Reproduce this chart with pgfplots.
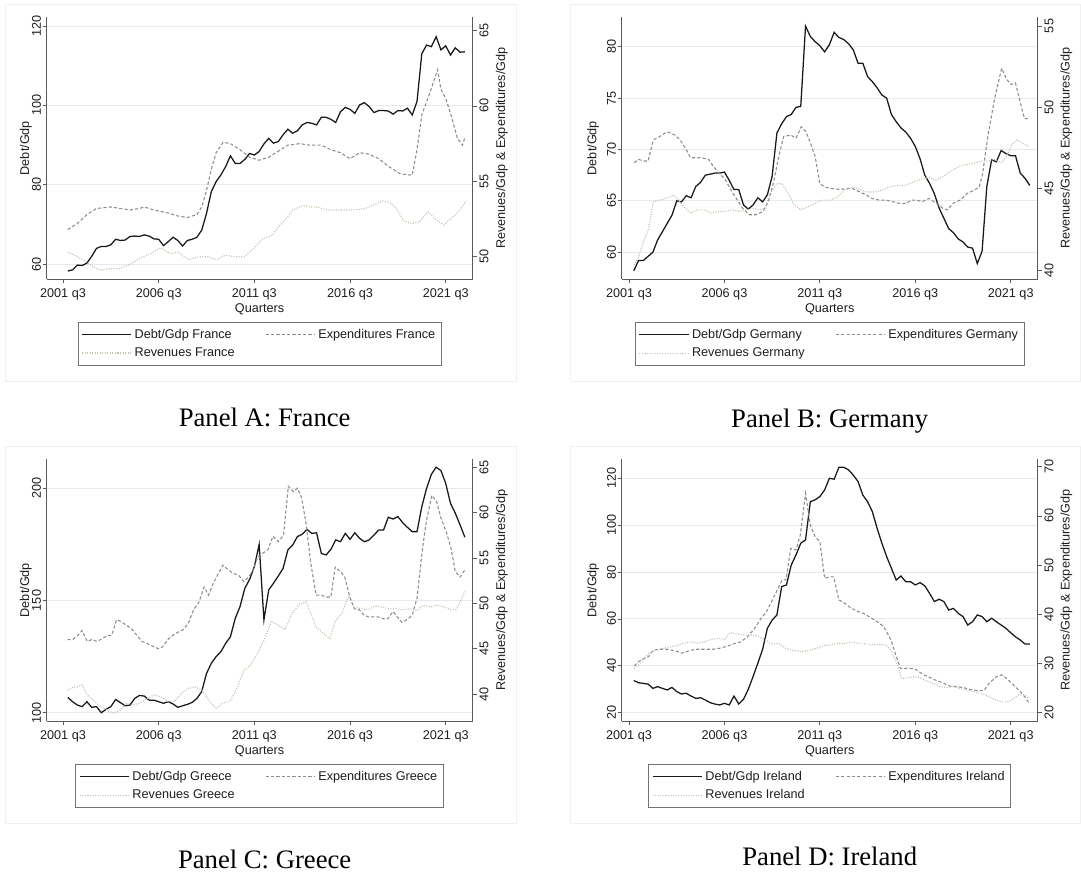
\documentclass[border=0pt]{standalone}
\usepackage{fontspec}
\setmainfont{Liberation Sans}
\newfontfamily\capfont{Liberation Serif}
\usepackage{pgfplots}
\pgfplotsset{compat=1.18}
\newcommand{\cf}{\fontsize{9.5}{11}\selectfont}
\definecolor{gridc}{RGB}{226,236,240}
\definecolor{axc}{RGB}{90,90,90}
\definecolor{txtc}{RGB}{30,30,30}
\definecolor{debtc}{RGB}{25,25,25}
\definecolor{expc}{RGB}{140,140,140}
\definecolor{revc}{RGB}{192,196,176}
\pgfplotsset{
  debt/.style={color=debtc, line width=0.95pt, solid},
  expd/.style={color=expc, line width=0.8pt, dash pattern=on 2.4pt off 1.6pt},
  reve/.style={color=revc, line width=0.85pt, dash pattern=on 0.8pt off 1.1pt},
  common/.style={
    scale only axis, width=312pt, height=197.1pt,
    xmin=-1.53, xmax=85.66,
    axis line style={axc, line width=0.6pt, -},
    tick align=outside, major tick length=3pt,
    tick style={axc, line width=0.6pt},
    ticklabel style={font=\cf, text=txtc},
    /pgf/number format/assume math mode=true,
    clip=true,
  },
  wide/.style={width=319.65pt, xmin=-3.45, xmax=85.64},
  leftax/.style={
    common,
    axis x line*=bottom, axis y line*=left,
    xtick={0,20,40,60,80},
    xticklabels={2001 q3,2006 q3,2011 q3,2016 q3,2021 q3},
    ymajorgrids, grid style={gridc, line width=0.7pt},
    yticklabel style={rotate=90, anchor=south, inner sep=1pt},
    xticklabel style={anchor=north, inner sep=0pt, yshift=-3.5pt},
    xlabel={Quarters},
    xlabel style={font=\cf, text=txtc, at={(axis description cs:0.5,0)}, anchor=north, inner sep=0pt, yshift=-18pt},
    ylabel={Debt/Gdp},
    ylabel style={font=\cf, text=txtc, at={(axis description cs:-0.034,0.5)}, anchor=south, inner sep=0pt},
  },
  rightax/.style={
    common,
    axis x line=none, axis y line*=right,
    yticklabel style={rotate=90, anchor=north, inner sep=2pt},
    ylabel={Revenues/Gdp \& Expenditures/Gdp},
    ylabel style={font=\cf, text=txtc, at={(axis description cs:1.054,0.5)}, anchor=north, inner sep=0pt},
    legend columns=2,
    legend cell align=left,
    legend image code/.code={\draw[##1] (0pt,0pt) -- (37pt,0pt);},
    legend style={at={(0.5,-0.1617)}, anchor=north, draw=black!55, line width=0.6pt,
      font=\cf, text=txtc, inner xsep=2.5pt, inner ysep=3pt, row sep=1.6pt,
      nodes={inner sep=2pt},
      /tikz/every even column/.append style={column sep=21pt}},
  },
}
\begin{document}
\begin{tikzpicture}
\useasboundingbox (0pt,0pt) rectangle (810.75pt,657.75pt);
% faint graph regions
\draw[black!6, line width=0.75pt] (3.75pt,371.25pt) rectangle (387pt,654pt);
\draw[black!6, line width=0.75pt] (427.5pt,371.25pt) rectangle (810pt,654pt);
\draw[black!6, line width=0.75pt] (3.75pt,39.75pt) rectangle (387pt,322.5pt);
\draw[black!6, line width=0.75pt] (427.5pt,39.75pt) rectangle (810pt,322.5pt);

% ================= Panel A: France =================
\begin{axis}[leftax, wide, at={(34.875pt,448.125pt)}, anchor=south west,
  ymin=56.17, ymax=122.34, ytick={60,80,100,120}]
\addplot[debt] coordinates {(1,58.3)(2,58.6)(3,59.8)(4,59.7)(5,60.3)(6,62.0)(7,64.0)(8,64.5)(9,64.5)(10,64.9)(11,66.3)(12,66.0)(13,66.1)(14,67.0)(15,67.1)(16,67.0)(17,67.4)(18,67.1)(19,66.4)(20,66.3)(21,64.7)(22,65.7)(23,66.8)(24,66.0)(25,64.6)(26,66.0)(27,66.3)(28,66.8)(29,68.6)(30,72.8)(31,78.3)(32,80.8)(33,82.5)(34,84.6)(35,87.3)(36,85.4)(37,85.4)(38,86.4)(39,87.9)(40,87.5)(41,88.4)(42,90.3)(43,91.7)(44,90.5)(45,90.9)(46,92.6)(47,94.0)(48,93.0)(49,93.6)(50,95.1)(51,95.7)(52,95.5)(53,95.1)(54,97.0)(55,97.0)(56,96.5)(57,95.7)(58,98.4)(59,99.5)(60,99.0)(61,98.0)(62,100.1)(63,100.7)(64,99.7)(65,98.2)(66,98.7)(67,98.7)(68,98.6)(69,97.8)(70,98.7)(71,98.6)(72,99.3)(73,97.6)(74,101.0)(75,113.0)(76,115.2)(77,114.8)(78,117.3)(79,114.0)(80,115.0)(81,112.7)(82,114.5)(83,113.4)(84,113.5)};
\end{axis}
\begin{axis}[rightax, wide, at={(34.875pt,448.125pt)}, anchor=south west,
  ymin=48.49, ymax=65.92, ytick={50,55,60,65}]
\addlegendimage{debt}\addlegendentry{Debt/Gdp France}
\addplot[expd] coordinates {(1,51.8)(3,52.2)(5,52.8)(7,53.2)(10,53.3)(12,53.2)(14,53.1)(16,53.2)(17,53.3)(19,53.1)(22,52.9)(24,52.7)(26,52.6)(28,52.8)(29,53.3)(30,54.4)(31,55.8)(32,56.9)(33.5,57.6)(35,57.5)(37,57.1)(39,56.6)(41,56.4)(43,56.6)(45,57.0)(47,57.4)(49.5,57.5)(51.5,57.4)(54,57.4)(56,57.1)(58,56.9)(60,56.5)(62,56.9)(64,56.8)(66,56.5)(68,56.0)(70.5,55.5)(73,55.4)(74,57.1)(75,59.4)(76.5,60.7)(78.3,62.4)(79,61.1)(80,60.5)(81.3,59.2)(82.4,57.9)(83.5,57.4)(84,57.9)};
\addlegendentry{Expenditures France}
\addplot[reve] coordinates {(1,50.3)(2.4,50.1)(4.2,49.8)(6,49.4)(7.8,49.1)(9.6,49.2)(11.8,49.2)(14,49.5)(16.1,49.9)(18.3,50.2)(20.5,50.6)(22.3,50.2)(24.1,50.3)(26.3,49.8)(28.4,50.0)(30.3,50.0)(32.1,49.8)(33.9,50.1)(36,50.0)(37.9,50.0)(40,50.6)(41.8,51.2)(43.7,51.4)(45.1,52.0)(46.6,52.5)(48,53.1)(50.2,53.4)(51.6,53.3)(53.1,53.3)(55.3,53.1)(57.4,53.1)(59.6,53.1)(61,53.1)(63.2,53.2)(65.4,53.5)(66.8,53.7)(68.3,53.6)(69.7,53.2)(71.2,52.4)(72.6,52.2)(74.5,52.3)(76.3,53.0)(77.8,52.5)(79.6,52.1)(80.6,52.4)(82.1,52.8)(83.2,53.2)(84.2,53.7)};
\addlegendentry{Revenues France}
\end{axis}

% ================= Panel B: Germany =================
\begin{axis}[leftax, at={(466.275pt,448.125pt)}, anchor=south west,
  ymin=57.35, ymax=82.92, ytick={60,65,70,75,80},
  ylabel style={at={(axis description cs:-0.054,0.5)}}]
\addplot[debt] coordinates {(1,58.2)(2,59.2)(3,59.2)(4,59.6)(5,60.0)(6,61.2)(7,62.0)(8,62.8)(9,63.6)(10,65.0)(11,64.9)(12,65.5)(13,65.3)(14,66.4)(15,66.8)(16,67.5)(17,67.6)(18,67.7)(19,67.7)(20,67.8)(21,67.0)(22,66.1)(23,66.1)(24,64.6)(25,64.2)(26,64.6)(27,65.3)(28,64.9)(29,65.6)(30,67.4)(31,71.6)(32,72.5)(33,73.2)(34,73.4)(35,74.1)(36,74.2)(37,82.0)(38,81.0)(39,80.5)(40,80.1)(41,79.5)(42,80.2)(43,81.4)(44,80.9)(45,80.7)(46,80.3)(47,79.7)(48,78.4)(49,78.4)(50,77.1)(51,76.6)(52,76.0)(53,75.3)(54,75.0)(55,73.4)(56,72.7)(57,72.1)(58,71.7)(59,71.1)(60,70.3)(61,69.1)(62,67.5)(63,66.7)(64,65.7)(65,64.3)(66,63.3)(67,62.3)(68,61.9)(69,61.3)(70,61.0)(71,60.5)(72,60.4)(73,58.9)(74,60.1)(75,66.4)(76,69.0)(77,68.8)(78,69.9)(79,69.6)(80,69.4)(81,69.4)(82,67.7)(83,67.2)(84,66.5)};
\end{axis}
\begin{axis}[rightax, at={(466.275pt,448.125pt)}, anchor=south west,
  ymin=39.42, ymax=55.57, ytick={40,45,50,55}]
\addlegendimage{debt}\addlegendentry{Debt/Gdp Germany}
\addplot[expd] coordinates {(1.1,46.6)(2,46.8)(3.1,46.7)(4,46.7)(5.1,48.0)(6.4,48.2)(8,48.5)(9.6,48.3)(10.7,48.0)(11.8,47.5)(12.9,46.9)(14,46.9)(15.1,46.9)(16.7,46.8)(17.6,46.4)(18.7,46.0)(20.1,45.6)(21.2,45.0)(22.7,44.3)(23.8,43.8)(25.2,43.4)(26.6,43.4)(28.1,43.6)(29.2,44.2)(30.3,45.4)(31.4,47.0)(32.4,48.2)(33.9,48.3)(35,48.1)(36.1,48.8)(37.1,48.5)(37.9,47.9)(39,47.0)(40,45.3)(41.1,45.1)(42.6,45.0)(44,44.96)(45.8,45.0)(46.9,45.0)(48.4,44.8)(49.8,44.6)(50.9,44.4)(52.4,44.3)(53.8,44.3)(55.3,44.2)(56.7,44.1)(58.1,44.1)(59.2,44.3)(60.3,44.3)(61.4,44.2)(62.9,44.4)(63.9,44.2)(65,44.0)(65.7,43.8)(66.8,43.7)(67.9,44.1)(69.4,44.3)(70.8,44.7)(72.3,44.9)(73.4,45.1)(74.1,45.9)(75.2,48.2)(76.6,50.5)(78.1,52.4)(79.2,51.7)(80.1,51.4)(81,51.5)(82,50.3)(82.9,49.3)(83.9,49.3)};
\addlegendentry{Expenditures Germany}
\addplot[reve] coordinates {(1.1,40.3)(2,40.8)(3.1,41.8)(4,42.4)(5.1,44.2)(6.4,44.3)(7.8,44.4)(9.3,44.6)(10.4,44.3)(11.4,43.9)(12.9,43.5)(14.3,43.7)(15.8,43.7)(17.2,43.5)(18.7,43.6)(20.1,43.6)(21.6,43.7)(23,43.6)(24.5,43.7)(25.9,43.8)(27.4,43.7)(28.5,43.8)(29.5,44.7)(31,45.3)(32.1,45.3)(33.2,44.8)(34.6,44.0)(36.1,43.7)(37.5,43.9)(39,44.1)(40.4,44.3)(42.2,44.3)(43.7,44.5)(45.1,44.9)(46.6,45.1)(48,45.0)(49.8,44.8)(51.6,44.8)(53.1,44.9)(54.5,45.1)(56.3,45.2)(57.8,45.2)(59.6,45.4)(61.4,45.6)(62.9,45.7)(64.3,45.5)(66.1,45.8)(67.6,46.1)(69.4,46.4)(71.2,46.5)(72.6,46.6)(74.1,46.7)(75.2,46.7)(76.6,46.8)(78.1,46.6)(79.2,47.0)(80.2,47.7)(81.3,48.0)(82.4,47.8)(83.9,47.6)};
\addlegendentry{Revenues Germany}
\end{axis}

% ================= Panel C: Greece =================
\begin{axis}[leftax, wide, at={(34.875pt,116.625pt)}, anchor=south west,
  ymin=96.08, ymax=213.2, ytick={100,150,200}]
\addplot[debt] coordinates {(1,106.8)(2,104.9)(3,103.4)(4,102.7)(5,104.9)(6,102.4)(7,102.7)(8,100.0)(9,101.5)(10,102.7)(11,105.9)(12,104.5)(13,103.1)(14,103.4)(15,106.4)(16,107.7)(17,107.4)(18,105.6)(19,105.6)(20,104.9)(21,104.2)(22,104.9)(23,103.9)(24,102.4)(25,103.1)(26,103.7)(27,104.6)(28,106.4)(29,109.4)(30,117.5)(31,122.0)(32,125.0)(33,127.2)(34,130.9)(35,133.9)(36,142.0)(37,147.3)(38,155.4)(39,159.4)(40,165.1)(41,175.0)(42,141.3)(43,154.7)(44,157.7)(45,160.9)(46,164.3)(47,172.5)(48,174.7)(49,178.5)(50,179.5)(51,181.7)(52,179.9)(53,180.2)(54,171.0)(55,170.3)(56,172.8)(57,177.0)(58,176.2)(59,179.9)(60,177.3)(61,180.2)(62,177.7)(63,176.2)(64,177.0)(65,179.2)(66,181.4)(67,181.4)(68,187.1)(69,186.3)(70,187.4)(71,184.7)(72,182.6)(73,180.7)(74,180.7)(75,191.8)(76,200.0)(77,206.2)(78,209.4)(79,207.9)(80,202.2)(81,193.3)(82,188.9)(83,183.7)(84,178.2)};
\end{axis}
\begin{axis}[rightax, wide, at={(34.875pt,116.625pt)}, anchor=south west,
  ymin=36.97, ymax=65.95, ytick={40,45,50,55,60,65}]
\addlegendimage{debt}\addlegendentry{Debt/Gdp Greece}
\addplot[expd] coordinates {(0.94,46.0)(2,46.0)(3,46.4)(4,47.0)(5.05,45.8)(6,46.0)(7.1,45.8)(8.2,46.1)(9.1,46.4)(10.2,46.5)(11.2,48.2)(12.1,48.0)(13.2,47.6)(14.3,47.2)(15.4,46.5)(16.5,45.8)(17.5,45.6)(18.6,45.3)(19.9,45.0)(20.8,45.2)(21.9,46.0)(23,46.5)(24,46.8)(25.1,47.1)(26.2,47.8)(27.3,49.3)(28.4,50.1)(29.5,51.8)(30.4,50.9)(31.4,52.2)(32.5,53.3)(33.4,54.2)(34.5,53.7)(35.6,53.3)(36.7,53.1)(37.8,52.4)(38.6,52.8)(39.6,53.5)(40.7,55.1)(41.7,55.5)(42.8,55.9)(43.9,57.4)(45,56.8)(46.1,57.5)(47.1,62.9)(48.2,62.3)(49,62.7)(49.9,61.6)(50.8,58.8)(51.8,54.4)(52.9,50.9)(54,50.9)(55.1,50.7)(56,50.7)(56.9,54.0)(58,53.5)(58.9,52.9)(60,50.6)(60.9,49.4)(61.9,49.3)(62.9,48.7)(63.9,48.5)(64.8,48.5)(65.9,48.5)(67,48.3)(67.9,48.3)(69,49.1)(69.9,48.5)(70.8,47.9)(71.9,48.2)(73,48.7)(74,50.6)(75.2,56.25)(76,59.2)(77.1,61.9)(78.1,61.2)(79,59.4)(80.1,57.9)(81.1,56.1)(82,53.5)(83,52.9)(84,53.7)};
\addlegendentry{Expenditures Greece}
\addplot[reve] coordinates {(0.94,40.4)(2,40.7)(3,40.8)(4,41.0)(5.05,39.9)(6,39.5)(7.4,38.8)(8.9,38.3)(10.3,37.9)(11.8,38.1)(13.2,39.0)(14.7,38.8)(16.1,39.0)(17.5,39.5)(19,39.9)(20.4,39.7)(21.9,39.2)(23.3,39.2)(24.8,40.1)(26.2,40.6)(27.7,40.8)(29.1,40.4)(30.5,39.3)(32,38.4)(33.4,39.0)(34.9,39.2)(36.3,40.6)(37.8,42.6)(39.2,43.2)(40.7,44.5)(42.1,46.0)(43.5,48.0)(45,47.6)(46.4,47.1)(47.9,48.9)(49.3,49.8)(50.8,50.2)(51.8,48.9)(52.9,47.4)(54.4,46.7)(55.8,46.1)(56.9,48.0)(58.3,48.9)(59.8,50.9)(60.9,49.6)(62.3,49.4)(63.8,49.3)(65.2,49.7)(66.6,49.6)(68.1,49.4)(69.5,49.4)(71,49.3)(72.4,49.4)(73.9,49.2)(75.3,49.8)(76.8,49.6)(78.2,49.8)(79.6,49.6)(81.1,49.3)(82.2,49.3)(83.2,50.4)(84,51.3)};
\addlegendentry{Revenues Greece}
\end{axis}

% ================= Panel D: Ireland =================
\begin{axis}[leftax, at={(466.275pt,116.625pt)}, anchor=south west,
  ymin=16.25, ymax=128.36, ytick={20,40,60,80,100,120},
  ylabel style={at={(axis description cs:-0.054,0.5)}}]
\addplot[debt] coordinates {(1,33.7)(2,32.8)(3,32.5)(4,32.2)(5,30.4)(6,31.1)(7,30.4)(8,29.7)(9,30.8)(10,29.0)(11,28.0)(12,28.3)(13,27.1)(14,26.1)(15,26.4)(16,25.4)(17,24.3)(18,23.7)(19,23.3)(20,24.0)(21,23.3)(22,27.1)(23,23.7)(24,25.7)(25,30.0)(26,35.4)(27,41.1)(28,47.0)(29,56.0)(30,59.5)(31,61.7)(32,73.8)(33,74.5)(34,83.0)(35,87.3)(36,92.3)(37,93.7)(38,110.0)(39,110.8)(40,112.2)(41,115.0)(42,120.0)(43,119.6)(44,124.7)(45,124.7)(46,123.6)(47,121.4)(48,118.6)(49,112.9)(50,110.0)(51,105.8)(52,98.7)(53,92.3)(54,86.6)(55,81.6)(56,76.6)(57,78.3)(58,75.9)(59,75.9)(60,74.5)(61,75.5)(62,74.1)(63,70.9)(64,67.4)(65,68.4)(66,67.4)(67,63.8)(68,64.5)(69,62.4)(70,61.0)(71,57.4)(72,58.8)(73,61.7)(74,61.0)(75,58.8)(76,60.3)(77,58.8)(78,57.4)(79,56.0)(80,54.1)(81,52.4)(82,51.0)(83,49.3)(84,49.3)};
\end{axis}
\begin{axis}[rightax, at={(466.275pt,116.625pt)}, anchor=south west,
  ymin=18.21, ymax=71.63, ytick={20,30,40,50,60,70}]
\addlegendimage{debt}\addlegendentry{Debt/Gdp Ireland}
\addplot[expd] coordinates {(1.1,29.5)(2,30.4)(3.1,31.0)(4.1,31.4)(5.1,32.7)(6.4,32.9)(8,32.9)(9.6,32.6)(11.1,32.1)(12.9,32.7)(14.3,32.9)(15.8,32.9)(17.6,32.9)(19,33.1)(20.5,33.5)(21.9,34.0)(23.4,34.4)(24.8,35.4)(26.3,37.1)(27.7,39.2)(28.8,40.5)(29.9,42.6)(31,44.8)(32.1,47.0)(32.9,47.0)(33.9,53.4)(35,53.1)(35.9,56.1)(37,64.6)(38,58.1)(39,55.8)(40,54.8)(41,47.3)(42,47.6)(42.9,47.6)(44,42.9)(45,42.4)(46.2,41.5)(47.6,40.7)(49.1,40.2)(50.5,39.4)(52,38.5)(53.4,37.5)(54.9,34.8)(56,31.5)(56.9,29.0)(57.8,29.0)(59.2,29.0)(60.3,28.7)(61.4,27.9)(62.9,27.2)(64.3,26.6)(65.7,26.1)(67.2,25.4)(68.6,25.3)(70.1,25.1)(71.5,24.7)(73,24.5)(74.4,24.5)(75.5,26.0)(77,27.3)(78.1,27.7)(79.1,27.0)(80.2,26.0)(81.7,24.6)(82.8,23.4)(83.9,21.9)};
\addlegendentry{Expenditures Ireland}
\addplot[reve] coordinates {(1.1,29.0)(2,29.7)(3.1,31.0)(4.2,32.1)(5.6,32.7)(7.1,33.1)(8.5,33.3)(10,33.6)(11.4,34.1)(12.9,34.4)(14.3,34.1)(15.8,34.4)(17.2,34.9)(18.7,35.1)(20.1,34.9)(21.2,36.3)(22.7,36.0)(24.1,35.8)(25.6,35.8)(27,35.6)(28.5,34.8)(29.9,34.0)(31.4,34.1)(32.8,33.1)(34.2,32.7)(36.1,32.4)(37.9,32.7)(39.3,33.1)(40.8,33.6)(42.2,33.8)(43.7,34.1)(45.1,34.0)(46.6,34.4)(48,34.1)(49.5,34.0)(50.9,33.8)(52.4,33.8)(53.8,33.8)(54.9,32.7)(56,30.4)(57.1,27.0)(58.1,27.0)(59.6,27.3)(60.7,27.2)(62.1,26.6)(63.6,26.0)(65,25.4)(66.5,25.1)(67.9,25.3)(69.4,24.9)(70.8,24.6)(72.3,24.3)(73.7,23.9)(75.2,23.4)(76.6,22.7)(78.1,22.2)(79.5,22.2)(80.6,22.9)(81.7,23.6)(82.8,23.6)(83.9,22.9)};
\addlegendentry{Revenues Ireland}
\end{axis}

% captions
\node[anchor=base, font=\capfont\fontsize{20}{24}\selectfont] at (198.5pt,337.5pt) {Panel A: France};
\node[anchor=base, font=\capfont\fontsize{20}{24}\selectfont] at (622.3pt,337pt) {Panel B: Germany};
\node[anchor=base, font=\capfont\fontsize{20}{24}\selectfont] at (198.5pt,6.5pt) {Panel C: Greece};
\node[anchor=base, font=\capfont\fontsize{20}{24}\selectfont] at (622.3pt,8.5pt) {Panel D: Ireland};
\end{tikzpicture}
\end{document}
